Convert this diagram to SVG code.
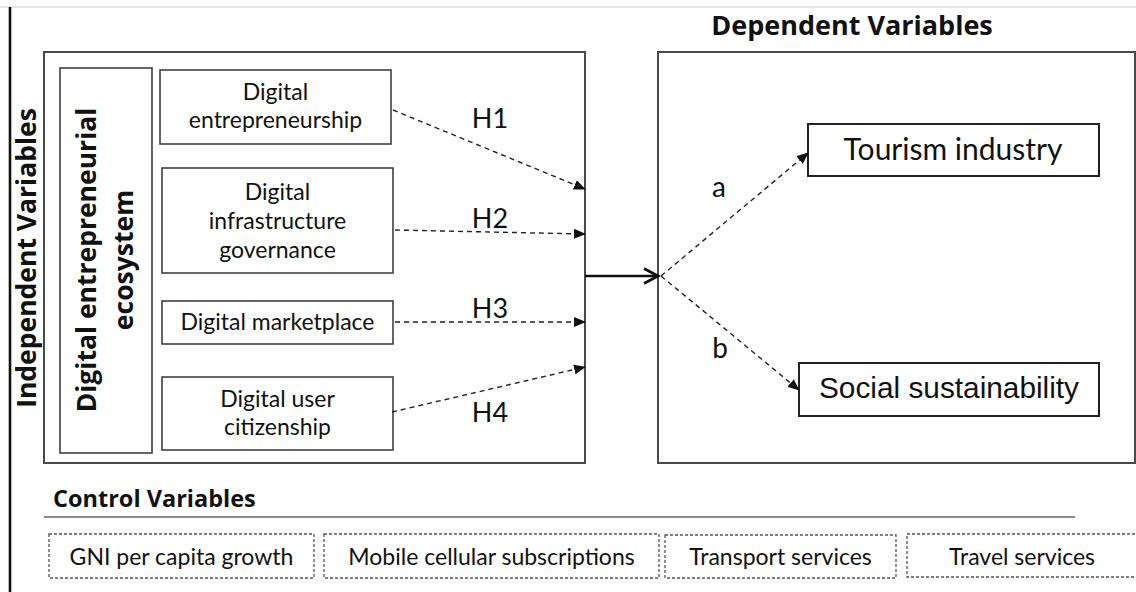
<svg xmlns="http://www.w3.org/2000/svg" width="1136" height="592" viewBox="0 0 1136 592">
<defs>
<style>
.box{fill:#fff;stroke:#404040;stroke-width:1.6}
.frame{fill:none;stroke:#4a4a4a;stroke-width:2}
.dbox{fill:#fff;stroke:#555;stroke-width:1.3;stroke-dasharray:3 2}
.t{font-family:Lato,"Liberation Sans",sans-serif;fill:#111;text-anchor:middle}
.tb{font-family:"Open Sans","Liberation Sans",sans-serif;font-weight:bold;fill:#111}
.dash{fill:none;stroke:#222;stroke-width:1.4;stroke-dasharray:5 4}
</style>
<marker id="tri" markerWidth="12" markerHeight="10" refX="11" refY="5" orient="auto" markerUnits="userSpaceOnUse">
<path d="M0,0 L12,5 L0,10 Z" fill="#111"/>
</marker>
</defs>
<rect width="1136" height="592" fill="#fff"/>
<line x1="0" y1="7" x2="1136" y2="7" stroke="#d0d0d0" stroke-width="1.2"/>
<line x1="10" y1="7" x2="10" y2="592" stroke="#111" stroke-width="2.6"/>

<g id="independent">
<rect class="frame" x="44" y="52" width="541" height="411"/>
<text class="tb" font-size="26.5" text-anchor="middle" transform="translate(36,258) rotate(-90)">Independent Variables</text>
</g>
<g id="ecosystem">
<rect class="box" x="60" y="68" width="92" height="385"/>
<text class="tb" font-size="26.5" text-anchor="middle" transform="translate(96,260) rotate(-90)">Digital entrepreneurial</text>
<text class="tb" font-size="26.5" text-anchor="middle" transform="translate(133,260) rotate(-90)">ecosystem</text>
</g>
<g id="n-entrepreneurship">
<rect class="box" x="160" y="70" width="231" height="74"/>
<text class="t" font-size="23" x="275.5" y="100">Digital</text>
<text class="t" font-size="23" x="275.5" y="128">entrepreneurship</text>
</g>
<g id="n-infrastructure">
<rect class="box" x="162" y="168" width="231" height="105"/>
<text class="t" font-size="23" x="277.5" y="200">Digital</text>
<text class="t" font-size="23" x="277.5" y="229">infrastructure</text>
<text class="t" font-size="23" x="277.5" y="258">governance</text>
</g>
<g id="n-marketplace">
<rect class="box" x="162" y="301" width="231" height="43"/>
<text class="t" font-size="23" x="277.5" y="330">Digital marketplace</text>
</g>
<g id="n-citizenship">
<rect class="box" x="162" y="377" width="231" height="73"/>
<text class="t" font-size="23" x="277.5" y="407">Digital user</text>
<text class="t" font-size="23" x="277.5" y="435">citizenship</text>
</g>

<g id="dependent">
<rect class="frame" x="658" y="52" width="477" height="411"/>
<text class="tb" font-size="27" x="852" y="35" text-anchor="middle">Dependent Variables</text>
</g>
<g id="n-tourism">
<rect x="808" y="124" width="291" height="52" fill="#fff" stroke="#222" stroke-width="2"/>
<text class="t" font-size="30" x="953" y="160">Tourism industry</text>
</g>
<g id="n-social">
<rect x="799" y="363" width="300" height="53" fill="#fff" stroke="#222" stroke-width="2"/>
<text font-family="'Liberation Sans',Arial,sans-serif" font-size="29.8" fill="#111" text-anchor="middle" x="949" y="398">Social sustainability</text>
</g>

<g id="connectors">
<line class="dash" x1="393" y1="110" x2="585" y2="189" marker-end="url(#tri)"/>
<line class="dash" x1="395" y1="230" x2="585" y2="234" marker-end="url(#tri)"/>
<line class="dash" x1="395" y1="322" x2="585" y2="322" marker-end="url(#tri)"/>
<line class="dash" x1="392" y1="412" x2="585" y2="367" marker-end="url(#tri)"/>
<line x1="585" y1="276" x2="657" y2="276" stroke="#111" stroke-width="2.5"/>
<path d="M644,268.5 L658,276 L644,283.5" fill="none" stroke="#111" stroke-width="2.8"/>
<line class="dash" x1="661" y1="276" x2="808" y2="153" marker-end="url(#tri)"/>
<line class="dash" x1="661" y1="276" x2="799" y2="390" marker-end="url(#tri)"/>
<text class="t" font-size="27" x="490" y="128">H1</text>
<text class="t" font-size="27" x="490" y="228">H2</text>
<text class="t" font-size="27" x="490" y="318">H3</text>
<text class="t" font-size="27" x="490" y="422">H4</text>
<text class="t" font-size="28" x="719" y="197">a</text>
<text class="t" font-size="28" x="720" y="358">b</text>
</g>

<g id="controls">
<text class="tb" font-size="23.5" x="53" y="507">Control Variables</text>
<line x1="44" y1="517" x2="1075" y2="517" stroke="#666" stroke-width="1.3"/>
</g>
<g id="c-gni">
<rect class="dbox" x="49" y="534" width="265" height="44"/>
<text class="t" font-size="23" x="181.5" y="565">GNI per capita growth</text>
</g>
<g id="c-mobile">
<rect class="dbox" x="324" y="534" width="335" height="44"/>
<text class="t" font-size="23" x="491.5" y="565">Mobile cellular subscriptions</text>
</g>
<g id="c-transport">
<rect class="dbox" x="665" y="535" width="231" height="43"/>
<text class="t" font-size="23" x="780.5" y="565">Transport services</text>
</g>
<g id="c-travel">
<rect class="dbox" x="907" y="534" width="232" height="43"/>
<text class="t" font-size="23" x="1022" y="565">Travel services</text>
</g>
</svg>
